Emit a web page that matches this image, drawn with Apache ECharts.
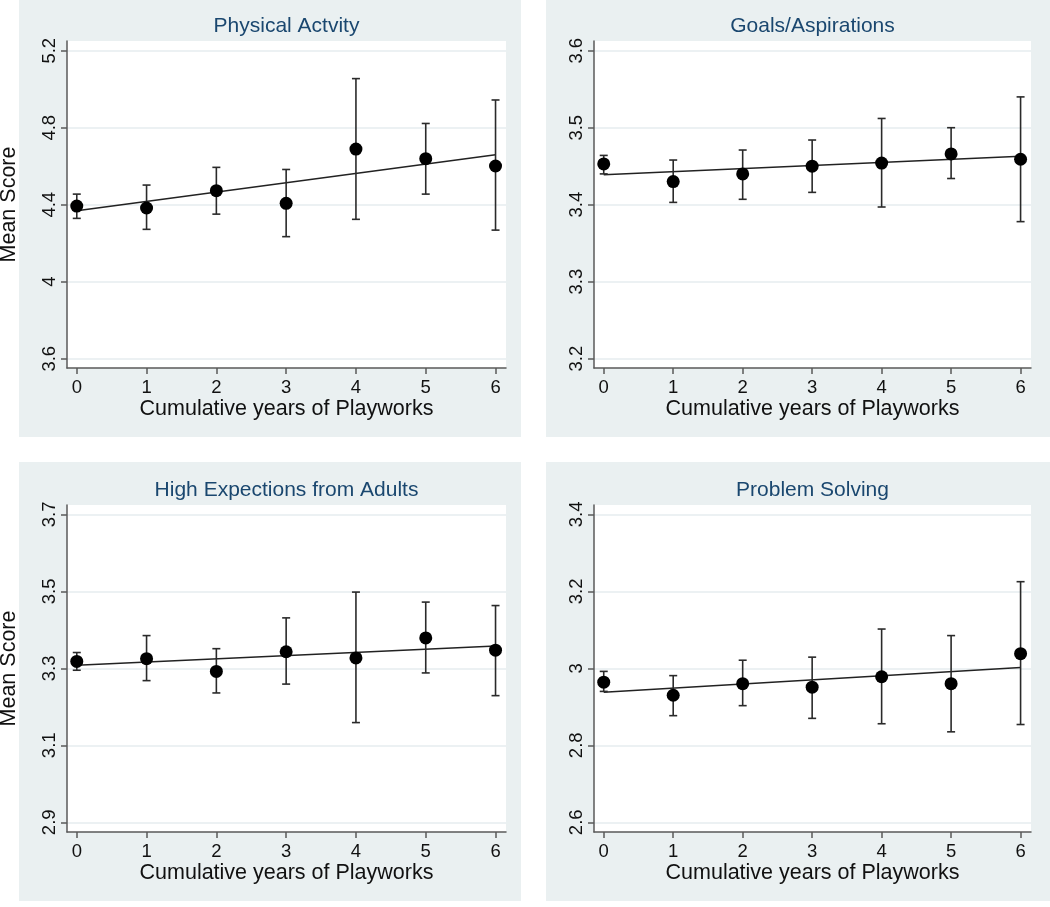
<!DOCTYPE html>
<html>
<head>
<meta charset="utf-8">
<script src="https://cdn.jsdelivr.net/npm/echarts@6/dist/echarts.min.js"></script>
<style>
html,body{margin:0;padding:0;background:#fff;}
#chart{width:1050px;height:907px;}
</style>
</head>
<body>
<div id="chart"></div>
<script>
// ---- data ----
const years = [0, 1, 2, 3, 4, 5, 6];
const titles = ['Physical Actvity', 'Goals/Aspirations', 'High Expections from Adults', 'Problem Solving'];

const physMean = [4.393, 4.383, 4.473, 4.407, 4.689, 4.639, 4.601];
const physLow  = [4.329, 4.272, 4.351, 4.234, 4.324, 4.455, 4.268];
const physHigh = [4.455, 4.502, 4.594, 4.583, 5.055, 4.822, 4.944];
const physFit  = [4.369, 4.660];

const goalMean = [3.453, 3.430, 3.440, 3.450, 3.454, 3.466, 3.459];
const goalLow  = [3.440, 3.403, 3.407, 3.416, 3.397, 3.434, 3.378];
const goalHigh = [3.464, 3.458, 3.471, 3.484, 3.512, 3.500, 3.540];
const goalFit  = [3.439, 3.463];

const highMean = [3.318, 3.325, 3.292, 3.343, 3.327, 3.379, 3.347];
const highLow  = [3.295, 3.268, 3.236, 3.259, 3.159, 3.288, 3.229];
const highHigh = [3.341, 3.385, 3.351, 3.431, 3.498, 3.472, 3.463];
const highFit  = [3.308, 3.358];

const probMean = [2.964, 2.930, 2.960, 2.951, 2.978, 2.960, 3.038];
const probLow  = [2.940, 2.877, 2.903, 2.870, 2.856, 2.835, 2.854];
const probHigh = [2.992, 2.981, 3.021, 3.029, 3.102, 3.085, 3.225];
const probFit  = [2.938, 3.002];

const physTicks = [3.6, 4.0, 4.4, 4.8, 5.2];
const goalTicks = [3.2, 3.3, 3.4, 3.5, 3.6];
const highTicks = [2.9, 3.1, 3.3, 3.5, 3.7];
const probTicks = [2.6, 2.8, 3.0, 3.2, 3.4];

// ---- layout ----
const panels = [
  {mean: physMean, low: physLow, high: physHigh, fit: physFit, ticks: physTicks, yMin: 3.5517, yMax: 5.2504,
   grid: {left: 67, top: 41, width: 439, height: 327}, bg: [19, 0, 502, 437], yName: 'Mean Score'},
  {mean: goalMean, low: goalLow, high: goalHigh, fit: goalFit, ticks: goalTicks, yMin: 3.1879, yMax: 3.6126,
   grid: {left: 594, top: 41, width: 437, height: 327}, bg: [546, 0, 504, 437], yName: ''},
  {mean: highMean, low: highLow, high: highHigh, fit: highFit, ticks: highTicks, yMin: 2.8748, yMax: 3.7242,
   grid: {left: 67, top: 505, width: 439, height: 327}, bg: [19, 462, 502, 439], yName: 'Mean Score'},
  {mean: probMean, low: probLow, high: probHigh, fit: probFit, ticks: probTicks, yMin: 2.5748, yMax: 3.4242,
   grid: {left: 594, top: 505, width: 437, height: 327}, bg: [546, 462, 504, 439], yName: ''}
];

const panelBg = '#eaf0f1';
const gridColor = '#e6edef';
const axisColor = '#5a5a5a';
const font = 'Liberation Sans, Arial, Helvetica, sans-serif';

const grids = [], xAxes = [], yAxes = [], series = [], titleArr = [], graphics = [];

function fmt(v) { return (Math.round(v * 10) / 10).toString(); }

panels.forEach((p, i) => {
  graphics.push({type: 'rect', shape: {x: p.bg[0], y: p.bg[1], width: p.bg[2], height: p.bg[3]},
    style: {fill: panelBg}, z: -10, silent: true});
  grids.push(Object.assign({show: true, backgroundColor: '#ffffff', borderWidth: 0,
    containLabel: false, outerBoundsMode: 'none'}, p.grid));
  titleArr.push({
    text: titles[i], left: p.grid.left + p.grid.width / 2, top: p.grid.top - 25, textAlign: 'center',
    padding: 0,
    textStyle: {fontFamily: font, fontSize: 21, fontWeight: 'normal', color: '#1a476f'}
  });
  xAxes.push({
    type: 'value', gridIndex: i, min: -0.14, max: 6.15,
    name: 'Cumulative years of Playworks', nameLocation: 'middle', nameGap: 28,
    nameTextStyle: {fontFamily: font, fontSize: 21.5, color: '#111'},
    axisLine: {show: true, onZero: false, lineStyle: {color: axisColor, width: 1.5}},
    axisTick: {show: true, length: 6, customValues: years, lineStyle: {color: axisColor, width: 1.5}},
    axisLabel: {customValues: years, margin: 10, fontFamily: font, fontSize: 18.5, color: '#111'},
    splitLine: {show: false}
  });
  yAxes.push({
    type: 'value', gridIndex: i, min: p.yMin, max: p.yMax,
    name: p.yName, nameLocation: 'middle', nameGap: 47,
    nameTextStyle: {fontFamily: font, fontSize: 21.5, color: '#111'},
    axisLine: {show: true, onZero: false, lineStyle: {color: axisColor, width: 1.5}},
    axisTick: {show: true, length: 6, customValues: p.ticks, lineStyle: {color: axisColor, width: 1.5}},
    axisLabel: {customValues: p.ticks, rotate: 90, margin: 8, formatter: fmt,
      fontFamily: font, fontSize: 18.5, color: '#111'},
    splitLine: {show: true, lineStyle: {color: gridColor, width: 1.5}}
  });
  // fitted line
  series.push({
    type: 'line', xAxisIndex: i, yAxisIndex: i, symbol: 'none',
    data: [[years[0], p.fit[0]], [years[years.length - 1], p.fit[1]]],
    lineStyle: {color: '#222', width: 1.5}, z: 3, silent: true
  });
  // error bars
  series.push({
    type: 'custom', xAxisIndex: i, yAxisIndex: i, z: 4, silent: true,
    data: years.map((x, k) => [x, p.low[k], p.high[k]]),
    renderItem: function (params, api) {
      const lo = api.coord([api.value(0), api.value(1)]);
      const hi = api.coord([api.value(0), api.value(2)]);
      const hw = 4;
      const st = {stroke: '#2a2a2a', lineWidth: 1.6};
      return {type: 'group', children: [
        {type: 'line', shape: {x1: lo[0], y1: lo[1], x2: hi[0], y2: hi[1]}, style: st},
        {type: 'line', shape: {x1: lo[0] - hw, y1: lo[1], x2: lo[0] + hw, y2: lo[1]}, style: st},
        {type: 'line', shape: {x1: hi[0] - hw, y1: hi[1], x2: hi[0] + hw, y2: hi[1]}, style: st}
      ]};
    }
  });
  // means
  series.push({
    type: 'scatter', xAxisIndex: i, yAxisIndex: i, symbol: 'circle', symbolSize: 13, z: 5,
    data: years.map((x, k) => [x, p.mean[k]]),
    itemStyle: {color: '#000', opacity: 1}
  });
});

const chart = echarts.init(document.getElementById('chart'), null, {renderer: 'canvas'});
chart.setOption({
  animation: false,
  backgroundColor: '#ffffff',
  title: titleArr,
  graphic: graphics,
  grid: grids,
  xAxis: xAxes,
  yAxis: yAxes,
  series: series
});
</script>
</body>
</html>
